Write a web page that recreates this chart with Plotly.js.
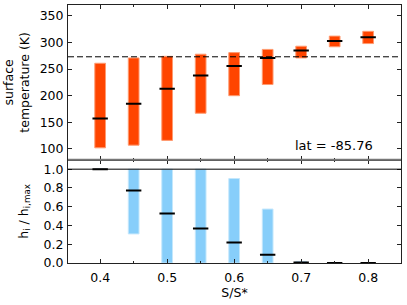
<!DOCTYPE html>
<html>
<head>
<meta charset="utf-8">
<script src="https://cdn.plot.ly/plotly-3.0.1.min.js"></script>
<style>html,body{margin:0;padding:0;background:#fff}#chart{width:407px;height:305px}</style>
</head>
<body>
<div id="chart"></div>
<script>
// S/S* values
const ratio = [0.4, 0.45, 0.5, 0.55, 0.6, 0.65, 0.7, 0.75, 0.8];
// surface temperature (K)
const tMin  = [102, 107, 116, 167, 200, 221, 271, 292, 298];
const tMax  = [261, 271, 274, 278, 281, 287, 293, 312, 321];
const tMean = [157, 185, 213, 238, 256, 271, 285, 303, 310];
// h_i / h_i,max
const hMin  = [1.0, 0.31, 0, 0, 0, 0, 0, 0, 0];
const hMax  = [1.0, 1.0, 1.0, 1.0, 0.9, 0.575, 0.017, 0, 0];
const hMean = [1.0, 0.772, 0.528, 0.368, 0.219, 0.088, 0.005, 0, 0];
const freezeT = 273.15;
const latLabel = 'lat = -85.76';

const barW = 0.016;
const font = {family: 'DejaVu Sans', size: 12.5, color: '#000'};

const traces = [
  {type: 'bar', x: ratio, base: tMin, y: tMax.map((v, i) => v - tMin[i]), width: barW,
   marker: {color: '#FF4500', line: {color: '#FF9A70', width: 1}}, xaxis: 'x', yaxis: 'y', hoverinfo: 'skip'},
  {type: 'scatter', mode: 'markers', x: ratio, y: tMean,
   marker: {symbol: 'line-ew', size: 11, line: {color: '#000', width: 2}}, xaxis: 'x', yaxis: 'y'},
  {type: 'bar', x: ratio, base: hMin, y: hMax.map((v, i) => v - hMin[i]), width: barW,
   marker: {color: '#87CEFA', line: {color: '#C4E7FC', width: 1}}, xaxis: 'x2', yaxis: 'y2', hoverinfo: 'skip'},
  {type: 'scatter', mode: 'markers', x: ratio, y: hMean,
   marker: {symbol: 'line-ew', size: 11, line: {color: '#000', width: 2}}, xaxis: 'x2', yaxis: 'y2'}
];

const axisCommon = {
  showline: true, linecolor: '#222', linewidth: 1, mirror: 'ticks',
  ticks: 'inside', ticklen: 4, tickwidth: 1, tickcolor: '#222',
  showgrid: false, zeroline: false, tickfont: font
};

const layout = {
  width: 407, height: 305,
  margin: {l: 68, r: 6, t: 5, b: 42},
  paper_bgcolor: '#fff', plot_bgcolor: '#fff',
  showlegend: false, font: font, barmode: 'overlay',
  xaxis: Object.assign({}, axisCommon, {
    domain: [0, 1], anchor: 'y', matches: 'x2', range: [0.352, 0.849],
    tick0: 0.4, dtick: 0.1, showticklabels: false,
    minor: {dtick: 0.05, ticks: 'inside', ticklen: 2, tickcolor: '#222'}
  }),
  yaxis: Object.assign({}, axisCommon, {
    domain: [0.4, 1], anchor: 'x', range: [79.5, 370.5], tick0: 100, dtick: 50,
    ticklabelstandoff: 1,
    title: {text: 'surface<br>temperature (K)', font: font, standoff: 7}
  }),
  xaxis2: Object.assign({}, axisCommon, {
    domain: [0, 1], anchor: 'y2', range: [0.352, 0.849],
    tick0: 0.4, dtick: 0.1, tickformat: '.1f', ticklabelstandoff: 3,
    minor: {dtick: 0.05, ticks: 'inside', ticklen: 2, tickcolor: '#222'},
    title: {text: 'S/S*', font: font, standoff: 3}
  }),
  yaxis2: Object.assign({}, axisCommon, {
    domain: [0, 0.4], anchor: 'x2', range: [0, 1.1], tick0: 0, dtick: 0.2, tickformat: '.1f',
    ticklabelstandoff: 1,
    title: {text: 'h<sub>i</sub> / h<sub>i,max</sub>', font: font, standoff: 12}
  }),
  shapes: [
    {type: 'line', xref: 'x domain', yref: 'y', x0: 0, x1: 1, y0: freezeT, y1: freezeT,
     line: {color: '#000', width: 1, dash: '6px,3px'}},
    {type: 'line', xref: 'x2 domain', yref: 'y2', x0: 0, x1: 1, y0: 1, y1: 1,
     line: {color: '#000', width: 1}},
    {type: 'line', xref: 'paper', yref: 'paper', x0: 0, x1: 1, y0: 0.4, y1: 0.4,
     line: {color: '#777', width: 2}}
  ],
  annotations: [
    {xref: 'x domain', yref: 'y domain', x: 0.922, y: 0.093, xanchor: 'right', yanchor: 'middle',
     text: latLabel, showarrow: false, font: {family: 'DejaVu Sans', size: 13, color: '#000'}}
  ]
};

Plotly.newPlot('chart', traces, layout, {staticPlot: true, displayModeBar: false});
</script>
</body>
</html>
